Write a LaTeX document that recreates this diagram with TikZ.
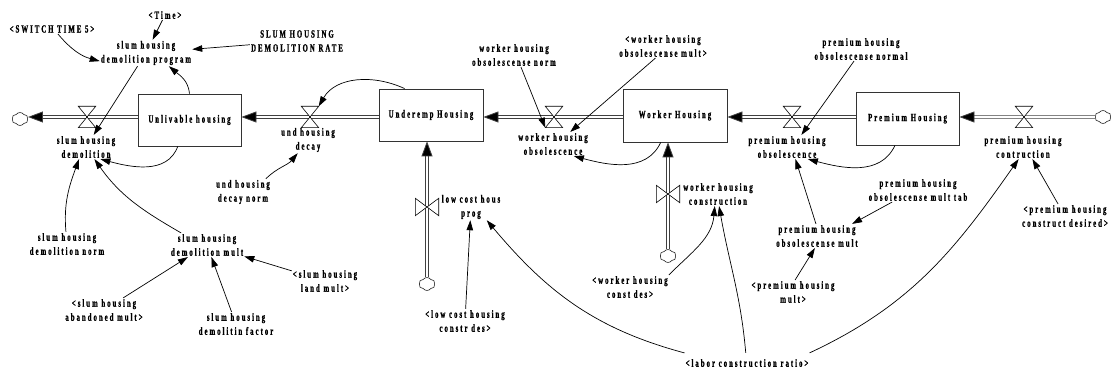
\documentclass[tikz,border=0pt]{standalone}
\usepackage{fontspec}
\setmainfont{Liberation Serif}[LetterSpace=18,FakeStretch=0.62,FakeBold=1.1]
\usetikzlibrary{arrows.meta,shapes.symbols,calc}
\tikzset{
  lbl/.style={align=center, font=\fontsize{11}{14}\selectfont\bfseries, inner sep=1pt},
  stock/.style={draw=black!80, line width=0.8pt, minimum width=103pt, minimum height=52pt, inner sep=0pt, font=\fontsize{11}{14}\selectfont\bfseries},
  link/.style={line width=0.7pt, -{Triangle[length=10pt,width=6.5pt]}},
  pipe/.style={draw=black!75, line width=0.8pt, double=white, double distance=1.6pt, -{Triangle[length=15pt,width=11pt,fill=black]}},
  valvebox/.style={minimum width=17pt, minimum height=21pt, inner sep=0pt},
  valveboxv/.style={minimum width=23pt, minimum height=17pt, inner sep=0pt},
  vshape/.style={draw=black, line width=0.6pt, fill=white},
  sink/.style={cloud, cloud puffs=6, cloud puff arc=110, aspect=1.2, draw=black!85, line width=0.6pt, minimum width=16pt, minimum height=13pt, inner sep=0pt, fill=white},
}
\begin{document}
\begin{tikzpicture}[x=1pt,y=1pt]
\useasboundingbox (0,0) rectangle (1113,-371);
% stocks
\node[stock] (unl) at (189.5,-120) {Unlivable housing};
\node[stock, minimum width=104pt] (und) at (431,-115) {Underemp Housing};
\node[stock, minimum width=104pt, minimum height=53pt] (wrk) at (675,-115.5) {Worker Housing};
\node[stock, minimum height=53pt] (prm) at (907.5,-118.5) {Premium Housing};
% valves
\node[valvebox] (v1) at (87,-117) {};
\node[valvebox] (v2) at (310,-117) {};
\node[valvebox] (v3) at (554,-117) {};
\node[valvebox] (v4) at (792,-117) {};
\node[valvebox] (v5) at (1024,-117) {};
\node[valveboxv] (v6) at (427,-207) {};
\node[valveboxv] (v7) at (668,-194) {};
% clouds
\node[sink] (cl1) at (20,-119) {};
\node[sink] (cl2) at (1103,-117) {};
\node[sink] (cl3) at (427,-284) {};
\node[sink] (cl4) at (668,-256) {};
% pipes
\draw[pipe] (unl.west |- v1) -- (cl1.east |- v1);
\draw[pipe] (und.west |- v2) -- (unl.east |- v2);
\draw[pipe] (wrk.west |- v3) -- (und.east |- v3);
\draw[pipe] (prm.west |- v4) -- (wrk.east |- v4);
\draw[pipe] (cl2.west) -- (prm.east |- v5);
\draw[pipe] (cl3.north) -- (und.south -| v6);
\draw[pipe] (cl4.north) -- (wrk.south -| v7);
\foreach \v in {v1,v2,v3,v4,v5}{
  \draw[vshape] (\v.north west) -- (\v.north east) -- (\v.south west) -- (\v.south east) -- cycle;
}
\foreach \v in {v6,v7}{
  \draw[vshape] (\v.north west) -- (\v.south west) -- (\v.north east) -- (\v.south east) -- cycle;
}
% labels
\node[lbl] (time) at (165,-15) {<Time>};
\node[lbl] (sw5) at (52,-29) {<SWITCH TIME 5>};
\node[lbl] (sdp) at (146,-53) {slum housing\\demolition program};
\node[lbl] (sdr) at (297,-41) {SLUM HOUSING\\DEMOLITION RATE};
\node[lbl] (sd) at (86,-147) {slum housing\\demolition};
\node[lbl] (udecay) at (308,-140) {und housing\\decay};
\node[lbl] (udn) at (243,-192) {und housing\\decay norm};
\node[lbl] (whon) at (514,-55) {worker housing\\obsolescense norm};
\node[lbl] (whom) at (663,-46) {<worker housing\\obsolescense mult>};
\node[lbl] (who) at (553,-144) {worker housing\\obsolescence};
\node[lbl] (pho) at (787,-147) {premium housing\\obsolescence};
\node[lbl] (phon) at (861,-49) {premium housing\\obsolescense normal};
\node[lbl] (phc) at (1023,-147) {premium housing\\contruction};
\node[lbl] (phomt) at (918,-190) {premium housing\\obsolescense mult tab};
\node[lbl] (phom) at (817,-236) {premium housing\\obsolescense mult};
\node[lbl] (phcd) at (1065,-216) {<premium housing\\construct desired>};
\node[lbl] (phm) at (793,-292) {<premium housing\\mult>};
\node[lbl] (whc) at (718,-194) {worker housing\\construction};
\node[lbl] (whcd) at (630,-287) {<worker housing\\const des>};
\node[lbl] (lchp) at (471,-207) {low cost hous\\prog};
\node[lbl] (lchcd) at (465,-321) {<low cost housing\\constr des>};
\node[lbl, inner ysep=6pt] (lcr) at (747,-363) {<labor construction ratio>};
\node[lbl] (sdn) at (67,-244) {slum housing\\demolition norm};
\node[lbl] (sdm) at (207,-245) {slum housing\\demolition mult};
\node[lbl] (sham) at (104,-310) {<slum housing\\abandoned mult>};
\node[lbl] (sdf) at (236,-324) {slum housing\\demolitin factor};
\node[lbl] (shlm) at (325,-281) {<slum housing\\land mult>};
% links
\draw[link] (time) -- (sdp);
\draw[link] (sw5.-40) to[out=-50,in=165] (sdp.190);
\draw[link] (sdr) -- (sdp);
\draw[link] (sdp) -- (sd);
\draw[link] (unl.north) to[out=95,in=-40] (sdp.-30);
\draw[link] (unl.-114) to[out=-110,in=-15] (sd.-40);
\draw[link] (sdn.95) to[out=95,in=-110] (sd.-120);
\draw[link] (sdm.155) to[out=150,in=-55] (sd.-55);
\draw[link] (sham) -- (sdm);
\draw[link] (sdf) -- (sdm);
\draw[link] (shlm) -- (sdm);
\draw[link] (und.135) to[out=155,in=60] (v2.north east);
\draw[link] (udn.30) to[out=45,in=-130] (udecay.-128);
\draw[link] (whon.-60) -- (v3.south west);
\draw[link] (whom.-122) -- (who.35);
\draw[link] (wrk.-118) to[out=-115,in=-15] (who.-30);
\draw[link] (phon.-120) -- (pho.40);
\draw[link] (prm.-115) to[out=-115,in=-15] (pho.-30);
\draw[link] (phom.95) -- (pho.-55);
\draw[link] (phomt.-155) -- (phom.19);
\draw[link] (phm.80) -- (phom.-100);
\draw[link] (phcd.120) -- (phc.-52);
\draw[link] (lcr.north east) to[out=25,in=-125] (phc.-110);
\draw[link] (lcr.97) to[out=95,in=-80] (whc.-85);
\draw[link] (whcd.north east) to[out=45,in=-95] (whc.-105);
\draw[link] (lcr.north west) to[out=165,in=-50] (lchp.-40);
\draw[link] (lchcd) -- (lchp);
\end{tikzpicture}
\end{document}
